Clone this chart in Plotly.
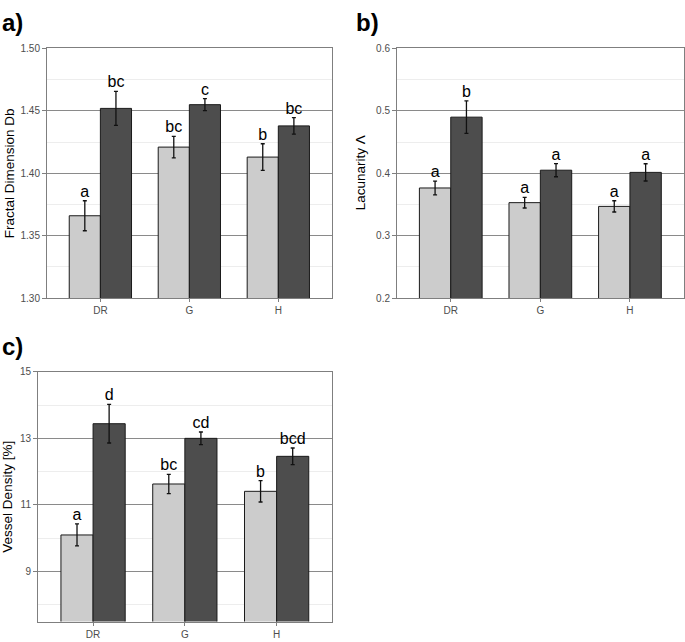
import numpy as np
import plotly.graph_objects as go

W, H = 685, 642

categories = ["DR", "G", "H"]

# Panel a: Fractal Dimension Db
fd_light = [1.366, 1.421, 1.413]
fd_light_se = [0.012, 0.0086, 0.0107]
fd_dark = [1.452, 1.455, 1.438]
fd_dark_se = [0.0136, 0.0048, 0.0066]
fd_light_letters = ["a", "bc", "b"]
fd_dark_letters = ["bc", "c", "bc"]

# Panel b: Lacunarity
lac_light = [0.3765, 0.353, 0.347]
lac_light_se = [0.011, 0.0086, 0.009]
lac_dark = [0.490, 0.405, 0.4015]
lac_dark_se = [0.026, 0.0105, 0.0138]
lac_light_letters = ["a", "a", "a"]
lac_dark_letters = ["b", "a", "a"]

# Panel c: Vessel Density [%]
vd_light = [10.10, 11.63, 11.41]
vd_light_se = [0.33, 0.29, 0.32]
vd_dark = [13.44, 13.00, 12.46]
vd_dark_se = [0.58, 0.19, 0.25]
vd_light_letters = ["a", "bc", "b"]
vd_dark_letters = ["d", "cd", "bcd"]

LIGHT = "#cccccc"
DARK = "#4d4d4d"
FONT = "Liberation Sans, Arial, sans-serif"
BW = 0.35

fig = go.Figure()

panels = [
    ("x", "y", fd_light, fd_light_se, fd_dark, fd_dark_se, fd_light_letters, fd_dark_letters),
    ("x2", "y2", lac_light, lac_light_se, lac_dark, lac_dark_se, lac_light_letters, lac_dark_letters),
    ("x3", "y3", vd_light, vd_light_se, vd_dark, vd_dark_se, vd_light_letters, vd_dark_letters),
]

idx = np.arange(len(categories))
for xa, ya, lv, ls, dv, ds, ll, dl in panels:
    for vals, ses, letters, color, off, name in [
        (lv, ls, ll, LIGHT, -BW / 2, "Group 1"),
        (dv, ds, dl, DARK, BW / 2, "Group 2"),
    ]:
        xs = idx + off
        fig.add_trace(go.Bar(
            x=xs, y=vals, width=BW, name=name, xaxis=xa, yaxis=ya,
            marker=dict(color=color, line=dict(color="#1a1a1a", width=1)),
            error_y=dict(type="data", array=ses, visible=True, color="#111111",
                         thickness=1.3, width=2),
            showlegend=False, hoverinfo="skip",
        ))
        tops = np.array(vals) + np.array(ses)
        fig.add_trace(go.Scatter(
            x=xs, y=tops, mode="text", text=letters, textposition="top center",
            textfont=dict(size=16, color="black", family=FONT),
            xaxis=xa, yaxis=ya, showlegend=False, hoverinfo="skip",
        ))


def xd(l, r):
    return [l / W, r / W]


def yd(t, b):
    return [1 - b / H, 1 - t / H]


common_x = dict(
    range=[-0.6, 2.6], tickmode="array", tickvals=list(idx), ticktext=categories,
    showgrid=False, zeroline=False, showline=True, mirror=True,
    linecolor="#7f7f7f", linewidth=1, ticks="outside", ticklen=3, tickcolor="#7f7f7f",
    tickfont=dict(size=10, color="#4d4d4d", family=FONT),
)


def yax(rng, tick0, dtick, mtick0, mdtick, fmt):
    return dict(
        range=rng, tick0=tick0, dtick=dtick, tickformat=fmt,
        showgrid=True, gridcolor="#8a8a8a", gridwidth=1, zeroline=False,
        showline=True, mirror=True, linecolor="#7f7f7f", linewidth=1,
        ticks="outside", ticklen=4, tickcolor="#7f7f7f",
        tickfont=dict(size=10, color="#4d4d4d", family=FONT),
        minor=dict(tick0=mtick0, dtick=mdtick, showgrid=True, gridcolor="#ededed",
                   gridwidth=1, ticks=""),
    )


layout = dict(
    width=W, height=H, margin=dict(l=0, r=0, t=0, b=0),
    paper_bgcolor="white", plot_bgcolor="white",
    font=dict(family=FONT, color="black"),
    barmode="overlay",
    xaxis=dict(domain=xd(47, 331.7), anchor="y", **common_x),
    yaxis=dict(domain=yd(43.3, 297.7), anchor="x", **yax([1.30, 1.50], 1.30, 0.05, 1.325, 0.05, ".2f")),
    xaxis2=dict(domain=xd(397, 683.7), anchor="y2", **common_x),
    yaxis2=dict(domain=yd(43.3, 297.7), anchor="x2", **yax([0.2, 0.6], 0.2, 0.1, 0.25, 0.1, ".1f")),
    xaxis3=dict(domain=xd(38, 331.7), anchor="y3", **common_x),
    yaxis3=dict(domain=yd(372.7, 627.3), anchor="x3", **yax([7.5, 15], 9, 2, 8, 2, "d")),
)
fig.update_layout(**layout)

annots = [
    ("a)", 0, 1),
    ("b)", 354, 1),
    ("c)", 0, 331),
]
for txt, px, py in annots:
    fig.add_annotation(text=f"<b>{txt}</b>", xref="paper", yref="paper",
                       x=px / W, y=1 - py / H, xanchor="left", yanchor="top",
                       showarrow=False, font=dict(size=24, family=FONT, color="black"))

titles = [
    ("Fractal Dimension Db", 9, 170.5),
    ("Lacunarity Λ", 360, 170.5),
    ("Vessel Density [%]", 8, 500),
]
for txt, px, py in titles:
    fig.add_annotation(text=txt, xref="paper", yref="paper", x=px / W, y=1 - py / H,
                       xanchor="center", yanchor="middle", textangle=-90,
                       showarrow=False, font=dict(size=13.5, family=FONT, color="black"))

fig.write_html(
    "out.html",
    config={"displayModeBar": False},
    post_script="document.body.style.margin='0';document.body.style.padding='0';"
                "document.documentElement.style.overflow='hidden';",
)
